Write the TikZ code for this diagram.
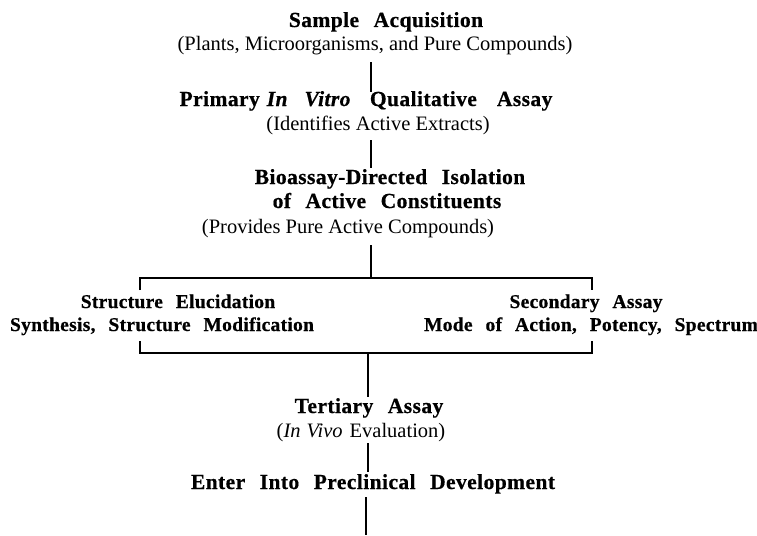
\documentclass[tikz,border=0pt]{standalone}
\usepackage{fontspec}
\setmainfont{Liberation Serif}
\newfontfamily\hd{Liberation Serif}[LetterSpace=2,WordSpace=2.5,FakeBold=0.6]
\newfontfamily\sd{Liberation Serif}[LetterSpace=1.5,WordSpace=2.5,FakeBold=0.6]
\begin{document}
\begin{tikzpicture}[x=1pt,y=-1pt,
  txt/.style={inner sep=0pt,text height=14pt,text depth=5pt,anchor=base,
    font=\fontsize{20.5}{24}\selectfont},
  head/.style={txt,font=\fontsize{21.5}{25}\selectfont\hd\bfseries},
  side/.style={txt,font=\fontsize{19.5}{23}\selectfont\sd\bfseries},
  conn/.style={line width=2.4pt},
  brk/.style={line width=2.4pt}]
\useasboundingbox (0,0) rectangle (757,535);
\coordinate (axA) at (371,0);
\coordinate (axB) at (368,0);

\node[head] (sa) at (386,27) {Sample Acquisition};
\node[txt] (pl) at (375,51) {(Plants, Microorganisms, and Pure Compounds)};
\node[head] (pr) at (366,106) {Primary\hspace{7pt}\textit{In\hspace{17pt}Vitro}\hspace{19pt}Qualitative\hspace{20pt}Assay};
\node[txt] (id) at (378,130) {(Identifies Active Extracts)};
\node[head] (bio1) at (390,184) {Bioassay-Directed Isolation};
\node[head] (bio2) at (387,208) {of Active Constituents};
\node[txt] (prov) at (348,233) {(Provides Pure Active Compounds)};

\node[side] (se) at (178,308) {Structure Elucidation};
\node[side] (syn) at (162,331) {Synthesis, Structure Modification};
\node[side] (sec) at (586,308) {Secondary Assay};
\node[side] (mode) at (591,331) {Mode of Action, Potency, Spectrum};

\node[head] (ter) at (369,413) {Tertiary Assay};
\node[txt] (viv) at (361,437) {(\textit{In\hspace{6pt}Vivo}\hspace{7pt}Evaluation)};
\node[head] (ent) at (373,489) {Enter Into Preclinical Development};

\coordinate (tl) at (140,278);
\coordinate (tr) at (592,278);
\coordinate (bl) at (140,353);
\coordinate (br) at (592,353);
\coordinate (endpt) at (366,535);

\draw[conn,shorten <=6pt] (pl.south -| axA) -- (pr.north -| axA);
\draw[conn,shorten <=5pt,shorten >=2pt] (id.south -| axA) -- (bio1.north -| axA);
\draw[conn,shorten <=7pt] (prov.south -| axA) -- (tl -| axA);
\draw[brk] ([yshift=-12pt]tl) -- (tl) -- (tr) -- ([yshift=-12pt]tr);
\draw[brk] ([yshift=12pt]bl) -- (bl) -- (br) -- ([yshift=12pt]br);
\draw[conn,shorten >=2pt] (bl -| axB) -- (ter.north -| axB);
\draw[conn,shorten <=1pt,shorten >=3pt] (viv.south -| axB) -- (ent.north -| axB);
\draw[conn,shorten <=3pt] (ent.south -| endpt) -- (endpt);
\end{tikzpicture}
\end{document}
